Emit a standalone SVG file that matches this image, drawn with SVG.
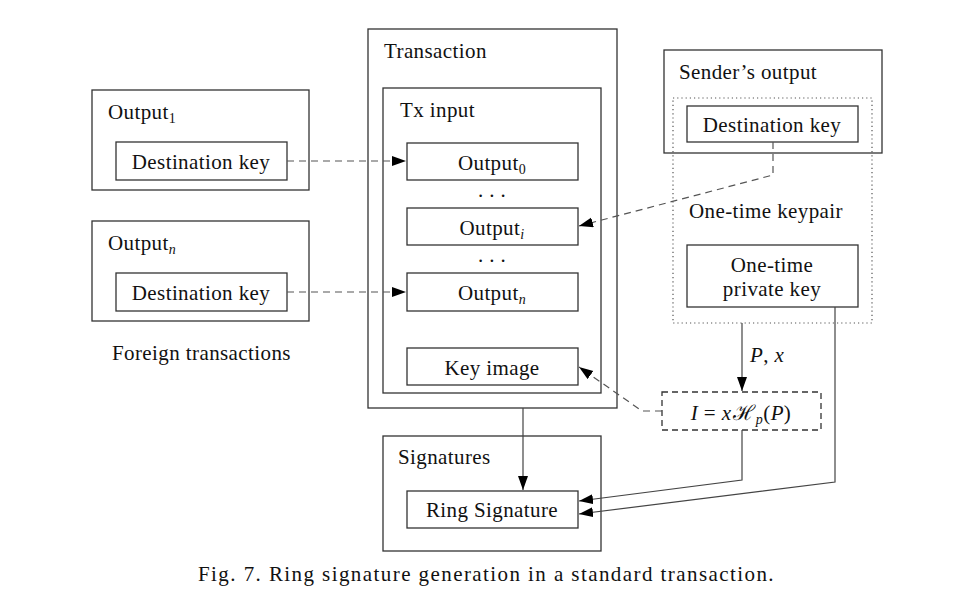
<svg xmlns="http://www.w3.org/2000/svg" width="953" height="606" viewBox="0 0 953 606">
<style>
text{font-family:"Liberation Serif","DejaVu Serif",serif;font-size:21px;letter-spacing:0.4px;fill:#111}
.m{text-anchor:middle}
.box{fill:none;stroke:#333;stroke-width:1.3}
.dot{fill:none;stroke:#555;stroke-width:1.2;stroke-dasharray:1.2 3}
.dbox{fill:none;stroke:#333;stroke-width:1.3;stroke-dasharray:6 4}
.c{fill:none;stroke:#444;stroke-width:1.2}
.d{fill:none;stroke:#555;stroke-width:1.2;stroke-dasharray:7 5}
</style>
<defs>
<marker id="ah" markerUnits="userSpaceOnUse" markerWidth="15" markerHeight="11" refX="14" refY="5" orient="auto">
<path d="M0,0 L14,5 L0,10 z" fill="#000"/>
</marker>
</defs>
<rect width="953" height="606" fill="#fff"/>

<g id="output1">
<rect class="box" x="92" y="90" width="217" height="100"/>
<text x="108" y="119">Output<tspan font-size="14" dy="4">1</tspan></text>
<rect class="box" x="116" y="142" width="171" height="38"/>
<text class="m" x="201" y="169">Destination key</text>
</g>

<g id="outputn">
<rect class="box" x="92" y="221" width="217" height="100"/>
<text x="108" y="250">Output<tspan font-size="14" font-style="italic" dy="4">n</tspan></text>
<rect class="box" x="116" y="273" width="171" height="38"/>
<text class="m" x="201" y="300">Destination key</text>
</g>

<text id="foreign" x="112" y="360">Foreign transactions</text>

<g id="transaction">
<rect class="box" x="368" y="29" width="249" height="379"/>
<text x="384" y="58">Transaction</text>
</g>

<g id="txinput">
<rect class="box" x="383" y="88" width="218" height="305"/>
<text x="400" y="117">Tx input</text>
</g>

<g id="output0">
<rect class="box" x="407" y="143" width="171" height="37"/>
<text class="m" x="492" y="170">Output<tspan font-size="14" dy="4">0</tspan></text>
</g>
<text class="m" x="492" y="197">. . .</text>
<g id="outputi">
<rect class="box" x="407" y="208" width="171" height="37"/>
<text class="m" x="492" y="235">Output<tspan font-size="14" font-style="italic" dy="4">i</tspan></text>
</g>
<text class="m" x="492" y="262">. . .</text>
<g id="outputn-in">
<rect class="box" x="407" y="273" width="171" height="38"/>
<text class="m" x="492" y="300">Output<tspan font-size="14" font-style="italic" dy="4">n</tspan></text>
</g>
<g id="keyimage">
<rect class="box" x="407" y="348" width="171" height="37"/>
<text class="m" x="492" y="375">Key image</text>
</g>

<g id="senders">
<rect class="box" x="664" y="50" width="218" height="103"/>
<text x="679" y="79">Sender’s output</text>
</g>
<g id="keypair">
<rect class="dot" x="673" y="98" width="199" height="225"/>
<text x="689" y="218">One-time keypair</text>
</g>
<g id="destkey-s">
<rect class="box" x="687" y="106" width="171" height="36"/>
<text class="m" x="772" y="132">Destination key</text>
</g>
<g id="privkey">
<rect class="box" x="687" y="245" width="171" height="62"/>
<text class="m" x="772" y="272">One-time</text>
<text class="m" x="772" y="296">private key</text>
</g>

<g id="ibox">
<rect class="dbox" x="662" y="392" width="159" height="38"/>
<text class="m" x="741" y="420"><tspan font-style="italic">I</tspan> = <tspan font-style="italic">x</tspan><tspan dx="2">ℋ</tspan><tspan font-size="14" font-style="italic" dy="4">p</tspan><tspan dy="-4">(</tspan><tspan font-style="italic">P</tspan>)</text>
</g>

<g id="signatures">
<rect class="box" x="383" y="436" width="218" height="115"/>
<text x="398" y="464">Signatures</text>
</g>
<g id="ringsig">
<rect class="box" x="407" y="491" width="171" height="37"/>
<text class="m" x="492" y="517">Ring Signature</text>
</g>

<g id="connectors">
<path class="d" d="M287,161 H406" marker-end="url(#ah)"/>
<path class="d" d="M287,292 H406" marker-end="url(#ah)"/>
<path class="d" d="M773,142 V175 L579,226" marker-end="url(#ah)"/>
<path class="d" d="M662,411 H642 L579,367" marker-end="url(#ah)"/>
<path class="c" d="M742,323 V391" marker-end="url(#ah)"/>
<text x="750" y="362" font-style="italic">P<tspan font-style="normal">, </tspan>x</text>
<path class="c" d="M523,408 V490" marker-end="url(#ah)"/>
<path class="c" d="M742,430 V480 L579,501" marker-end="url(#ah)"/>
<path class="c" d="M835,307 V482 L579,514" marker-end="url(#ah)"/>
</g>

<text x="198" y="581" font-size="22" textLength="576" lengthAdjust="spacing">Fig. 7. Ring signature generation in a standard transaction.</text>
</svg>
